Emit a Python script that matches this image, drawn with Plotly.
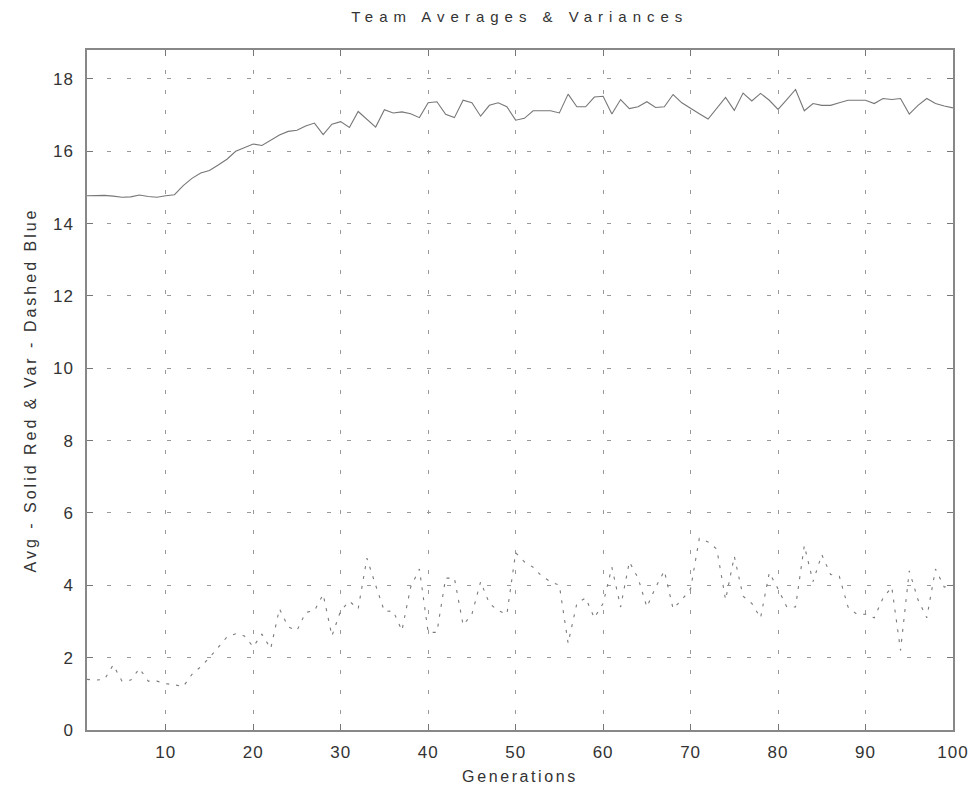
import plotly.graph_objects as go

generations = list(range(1, 101))

team_avg = [
    14.77, 14.78, 14.78, 14.76, 14.73, 14.74, 14.79, 14.75, 14.73, 14.77,
    14.80, 15.05, 15.25, 15.40, 15.47, 15.62, 15.78, 16.00, 16.10, 16.20,
    16.16, 16.30, 16.45, 16.55, 16.58, 16.70, 16.78, 16.46, 16.75, 16.82,
    16.66, 17.10, 16.88, 16.67, 17.15, 17.06, 17.09, 17.04, 16.93, 17.34,
    17.37, 17.02, 16.93, 17.41, 17.34, 16.97, 17.27, 17.34, 17.23, 16.86,
    16.91, 17.12, 17.12, 17.12, 17.06, 17.58, 17.23, 17.23, 17.50, 17.52,
    17.03, 17.43, 17.18, 17.23, 17.37, 17.21, 17.23, 17.57, 17.34, 17.18,
    17.04, 16.89, 17.18, 17.49, 17.13, 17.61, 17.39, 17.60, 17.41, 17.16,
    17.43, 17.71, 17.12, 17.32, 17.27, 17.27, 17.34, 17.41, 17.41, 17.41,
    17.32, 17.46, 17.43, 17.46, 17.03, 17.27, 17.46, 17.32, 17.25, 17.20,
]

team_var = [
    1.40, 1.38, 1.40, 1.80, 1.35, 1.38, 1.70, 1.35, 1.35, 1.28,
    1.25, 1.20, 1.54, 1.75, 2.00, 2.30, 2.57, 2.66, 2.60, 2.30,
    2.65, 2.25, 3.35, 2.85, 2.75, 3.25, 3.30, 3.75, 2.60, 3.30,
    3.56, 3.35, 4.75, 4.00, 3.28, 3.29, 2.75, 3.95, 4.45, 2.70,
    2.70, 4.20, 4.20, 2.90, 3.20, 4.10, 3.50, 3.30, 3.20, 4.90,
    4.65, 4.50, 4.25, 4.10, 4.00, 2.40, 3.50, 3.65, 3.10, 3.50,
    4.50, 3.40, 4.65, 4.20, 3.40, 3.94, 4.40, 3.35, 3.60, 3.90,
    5.30, 5.20, 5.00, 3.60, 4.80, 3.70, 3.50, 3.10, 4.35, 3.90,
    3.40, 3.40, 5.10, 4.10, 4.85, 4.30, 4.25, 3.40, 3.20, 3.20,
    3.10, 3.65, 3.95, 2.20, 4.40, 3.60, 3.10, 4.45, 3.95, 4.00,
]

x_ticks = [10, 20, 30, 40, 50, 60, 70, 80, 90, 100]
y_ticks = [0, 2, 4, 6, 8, 10, 12, 14, 16, 18]

FONT = "Liberation Sans, Arial, Helvetica, sans-serif"
TEXT_COLOR = "#333333"

fig = go.Figure()
fig.add_trace(go.Scatter(
    x=generations, y=team_avg, mode="lines",
    line=dict(color="#777777", width=1.1),
    showlegend=False,
))
fig.add_trace(go.Scatter(
    x=generations, y=team_var, mode="lines",
    line=dict(color="#7a7a7a", width=1.1, dash="3px,7px"),
    showlegend=False,
))

axis_common = dict(
    showline=True, linecolor="#888888", linewidth=1.5, mirror="ticks",
    ticks="inside", ticklen=6, tickcolor="#777777", tickwidth=1,
    showgrid=True, gridcolor="#999999", gridwidth=1, griddash="4px,16px",
    zeroline=False,
    tickfont=dict(family=FONT, size=17, color=TEXT_COLOR),
)

fig.update_xaxes(
    range=[1, 100], tickvals=x_ticks,
    title=dict(text="Generations", font=dict(family=FONT, size=16, color=TEXT_COLOR), standoff=10),
    ticklabelstandoff=6,
    **axis_common,
)
fig.update_yaxes(
    range=[0, 18.8], tickvals=y_ticks,
    title=dict(text="Avg - Solid Red & Var - Dashed Blue", font=dict(family=FONT, size=16, color=TEXT_COLOR), standoff=14),
    ticklabelstandoff=8,
    **axis_common,
)

fig.update_layout(
    width=979, height=795,
    margin=dict(l=87, r=24, t=50, b=65),
    paper_bgcolor="white", plot_bgcolor="white",
    title=dict(text="Team Averages &amp; Variances", x=0.531, xanchor="center", y=0.985, yanchor="top",
               font=dict(family=FONT, size=15, color=TEXT_COLOR)),
)

# widen letter spacing like the scanned original (text stays real text)
post = """
var gd = document.getElementById('{plot_id}');
function spacing(sel, px) {
  gd.querySelectorAll(sel).forEach(function(t){ t.style.letterSpacing = px; });
}
spacing('.gtitle', '6px');
spacing('.xtitle', '2.6px');
spacing('.ytitle', '3px');
spacing('.xtick text', '1px');
spacing('.ytick text', '1px');
"""

fig.write_html("out.html", post_script=post)
